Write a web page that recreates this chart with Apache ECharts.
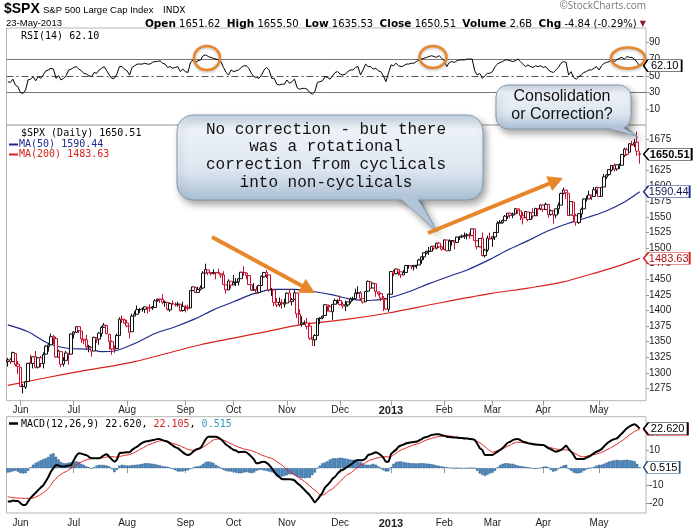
<!DOCTYPE html>
<html><head><meta charset="utf-8">
<script src="https://cdn.jsdelivr.net/npm/echarts@6.0.0/dist/echarts.min.js"></script>
<style>html,body{margin:0;padding:0;background:#fff;}#chart{width:699px;height:529px;}</style>
</head><body><div id="chart"></div>
<script>
// ---------- categories (NYSE trading days 2012-05-24 .. 2013-05-23) ----------
const holidays = ['2012-05-28','2012-07-04','2012-09-03','2012-10-29','2012-10-30','2012-11-22','2012-12-25','2013-01-01','2013-01-21','2013-02-18','2013-03-29'];
const monthNames = ['Jan','Feb','Mar','Apr','May','Jun','Jul','Aug','Sep','Oct','Nov','Dec'];

// ---------- price data (by month) ----------
const open = [
 1318,1321,1318,1331,1314,
 1309,1278,1277,1286,1317,1315,1326,1309,1324,1315,1330,1342,1345,1358,1355,1325,1334,1314,1320,1331,1330,
 1362,1365,1374,1367,1354,1353,1342,1341,1335,1356,1354,1363,1373,1376,1362,1350,1338,1339,1360,1386,1385,
 1380,1375,1366,1391,1394,1401,1402,1402,1405,1405,1404,1405,1416,1418,1418,1413,1413,1401,1411,1410,1409,1410,1400,
 1406,1405,1404,1432,1437,1429,1434,1436,1460,1465,1461,1459,1461,1461,1459,1457,1441,1433,1447,
 1441,1445,1446,1451,1461,1460,1456,1441,1433,1433,1429,1440,1454,1461,1457,1433,1433,1413,1409,1412,1410,
 1412,1428,1414,1418,1428,1394,1378,1380,1380,1375,1356,1353,1360,1387,1388,1392,1409,1406,1398,1410,1416,
 1416,1410,1407,1409,1414,1418,1419,1428,1428,1419,1414,1431,1446,1436,1443,1430,1427,1420,1418,1402,
 1426,1462,1459,1466,1462,1457,1461,1472,1472,1470,1472,1473,1481,1486,1492,1495,1495,1503,1500,1508,1502,
 1498,1513,1496,1511,1512,1509,1518,1518,1519,1520,1521,1520,1531,1512,1502,1516,1488,1497,1516,
 1515,1518,1525,1540,1541,1544,1551,1556,1553,1555,1563,1560,1552,1549,1558,1546,1557,1552,1563,1563,
 1569,1562,1570,1554,1560,1553,1563,1569,1588,1593,1588,1553,1574,1552,1541,1555,1563,1579,1579,1585,1583,1593,
 1597,1583,1598,1614,1618,1625,1633,1627,1632,1633,1649,1658,1654,1665,1667,1670,1651.62
];
const high = [
 1324,1324,1334,1331,1319,
 1309,1282,1287,1316,1329,1326,1335,1325,1327,1333,1344,1348,1363,1361,1358,1337,1334,1325,1335,1331,1363,
 1367,1374,1374,1367,1354,1361,1345,1341,1358,1357,1365,1375,1380,1376,1362,1352,1344,1363,1389,1392,1387,
 1385,1375,1395,1399,1408,1404,1405,1406,1405,1410,1407,1418,1419,1418,1426,1416,1413,1413,1416,1413,1414,1410,1414,
 1409,1409,1433,1438,1438,1438,1440,1463,1475,1465,1461,1466,1461,1467,1460,1463,1441,1450,1447,
 1457,1452,1452,1462,1471,1461,1456,1442,1444,1439,1441,1456,1462,1465,1457,1436,1433,1420,1421,1418,1419,
 1429,1434,1420,1433,1428,1402,1391,1384,1388,1381,1357,1362,1387,1389,1392,1410,1409,1409,1410,1419,1418,
 1424,1414,1416,1414,1421,1422,1435,1439,1431,1419,1431,1448,1447,1444,1443,1430,1429,1423,1418,1427,
 1463,1465,1467,1466,1462,1465,1473,1473,1472,1473,1473,1483,1487,1493,1496,1502,1503,1504,1509,1510,1504,
 1514,1513,1514,1513,1513,1518,1518,1522,1525,1524,1525,1531,1531,1512,1516,1525,1499,1520,1525,
 1519,1525,1543,1545,1546,1553,1556,1557,1557,1564,1563,1560,1558,1559,1558,1557,1564,1564,1563,1570,
 1570,1573,1571,1562,1560,1563,1573,1589,1597,1593,1588,1575,1574,1555,1556,1565,1580,1584,1592,1586,1598,1598,
 1598,1598,1619,1619,1627,1633,1636,1634,1636,1651,1661,1661,1668,1672,1675,1687,1655.5
];
const low = [
 1310,1314,1318,1310,1298,
 1277,1267,1274,1286,1314,1307,1307,1307,1309,1307,1329,1334,1345,1346,1324,1325,1309,1310,1320,1313,1330,
 1355,1364,1364,1348,1346,1337,1333,1326,1335,1348,1345,1358,1372,1362,1337,1329,1332,1339,1360,1380,1379,
 1373,1355,1366,1391,1394,1396,1398,1396,1395,1398,1401,1405,1414,1412,1410,1406,1400,1398,1409,1406,1406,1398,1398,
 1397,1400,1404,1431,1428,1429,1432,1435,1460,1457,1456,1458,1450,1459,1452,1441,1427,1433,1435,
 1441,1439,1440,1451,1456,1450,1441,1431,1432,1426,1427,1440,1453,1452,1430,1423,1407,1405,1406,1403,1405,
 1412,1414,1408,1417,1388,1377,1374,1378,1370,1353,1343,1343,1360,1378,1386,1392,1398,1397,1385,1410,1411,
 1408,1403,1399,1406,1411,1415,1419,1426,1416,1411,1414,1430,1435,1436,1422,1424,1415,1399,1401,1398,
 1426,1455,1458,1456,1452,1457,1461,1467,1466,1464,1467,1473,1475,1481,1490,1489,1494,1497,1498,1500,1496,
 1498,1495,1496,1504,1498,1509,1513,1516,1515,1514,1515,1520,1512,1498,1502,1487,1485,1494,1514,
 1502,1513,1525,1540,1539,1544,1547,1548,1548,1555,1555,1545,1538,1549,1543,1546,1547,1552,1551,1561,
 1558,1562,1549,1552,1539,1548,1555,1569,1586,1579,1552,1553,1543,1536,1539,1549,1563,1575,1579,1577,1583,1587,
 1582,1583,1598,1611,1616,1623,1623,1624,1627,1633,1646,1648,1654,1665,1662,1648,1635.53
];
const close = [
 1320.7,1317.8,1332.4,1313.3,1310.3,
 1278.0,1278.2,1285.5,1315.1,1315.0,1325.7,1308.9,1324.2,1314.9,1329.1,1342.8,1344.8,1358.0,1355.7,1325.5,1335.0,1313.7,1320.0,1331.9,1329.0,1362.2,
 1365.5,1374.0,1367.6,1354.7,1352.5,1341.5,1341.5,1334.8,1356.8,1353.6,1363.7,1372.8,1376.5,1362.7,1350.5,1338.3,1337.9,1360.0,1386.0,1385.3,1379.3,
 1375.3,1365.0,1391.0,1394.2,1401.4,1402.2,1402.8,1405.9,1404.1,1403.9,1405.5,1415.5,1418.2,1418.1,1413.2,1413.5,1402.1,1411.1,1410.4,1409.3,1410.5,1399.5,1406.6,
 1404.9,1403.4,1432.1,1437.9,1429.1,1433.6,1436.6,1460.0,1465.8,1461.2,1459.3,1461.1,1460.3,1460.2,1456.9,1441.6,1433.3,1447.2,1440.7,
 1444.5,1445.8,1451.0,1461.4,1460.9,1455.9,1441.5,1432.6,1432.8,1428.6,1440.1,1454.9,1460.9,1457.3,1433.2,1433.8,1413.1,1408.8,1413.0,1411.9,1412.2,
 1427.6,1414.2,1417.3,1428.4,1394.5,1377.5,1380.0,1380.0,1374.5,1355.5,1353.3,1359.9,1386.9,1387.8,1391.0,1409.2,1406.3,1398.9,1409.9,1416.0,1416.2,
 1409.5,1407.1,1409.3,1413.9,1418.1,1418.6,1427.8,1428.5,1419.5,1413.6,1430.4,1446.8,1435.8,1443.7,1430.2,1426.7,1419.8,1418.1,1402.4,1426.2,
 1462.4,1459.4,1466.5,1461.9,1457.2,1461.0,1472.1,1472.1,1470.7,1472.3,1472.6,1480.9,1486.0,1492.6,1494.8,1494.8,1503.0,1500.2,1507.8,1502.0,1498.1,
 1513.2,1495.7,1511.3,1512.1,1509.4,1517.9,1518.0,1519.4,1520.3,1521.4,1519.8,1530.9,1512.0,1502.4,1515.6,1487.9,1496.9,1516.0,1514.7,
 1518.2,1525.2,1539.8,1541.5,1544.3,1551.2,1556.2,1552.5,1554.5,1563.2,1560.7,1552.1,1548.3,1558.7,1545.8,1556.9,1551.7,1563.8,1562.9,1569.2,
 1562.2,1570.3,1553.7,1560.0,1553.3,1563.1,1568.6,1587.7,1593.4,1588.9,1552.4,1574.6,1552.0,1541.6,1555.3,1562.5,1578.8,1578.8,1585.2,1582.2,1593.6,1597.6,
 1582.7,1597.6,1614.4,1617.5,1626.0,1632.7,1626.7,1633.7,1633.8,1650.3,1658.8,1650.5,1667.5,1666.3,1669.2,1655.4,1650.51
];
// moving averages: [trading-day index, value]
const ma50 = [[0,1377],[8,1366],[16,1347],[24,1339],[32,1338],[37,1334],[42,1335],[50,1347],[58,1363],[66,1374],[74,1387],[81,1401],[89,1414],[97,1427],[105,1434],[113,1434],[121,1430],[128,1425],[134,1419],[142,1416],[150,1420],[158,1430],[166,1443],[174,1455],[181,1465],[190,1482],[197,1497],[205,1512],[213,1528],[221,1540],[229,1550],[236,1560],[243,1574],[249,1590.44]];
const ma200 = [[0,1280],[24,1299],[50,1318],[76,1345],[102,1366],[115,1377],[134,1386],[150,1396],[170,1412],[190,1427],[205,1436],[218,1445],[233,1462],[241,1472],[249,1483.63]];

// ---------- indicators ----------
const rsi = [
 43,42,46,39,37,30,29,33,45,46, 49,44,49,47,51,56,57,59,58,47, 50,45,47,50,57,58,60,61,58,56,
 53,52,50,49,54,53,57,59,61,56, 51,47,47,52,61,61,58,56,51,60, 62,64,64,64,65,64,64,66,67,67,
 68,65,64,60,61,59,60,61,55,58, 55,54,66,69,66,68,69,74,75,73, 72,71,70,69,67,60,54,51,57,55,
 56,57,60,62,62,59,53,49,48,47, 51,57,60,57,47,47,40,39,40,40, 45,41,43,46,36,34,35,35,34,30,
 28,31,42,43,44,49,48,46,50,54, 55,52,51,52,55,57,57,60,61,51, 57,64,61,61,58,59,56,55,50,43,
 53,63,62,65,62,61,62,64,64,65, 65,67,69,70,71,72,73,74,73,72, 74,71,68,61,66,67,66,68,69,69,
 69,70,70,70,56,51,53,47,50,53, 53,55,61,64,66,67,69,69,68,67, 68,70,67,64,61,63,61,60,62,61,
 62,60,61,57,55,54,57,60,65,67, 66,51,55,48,46,49,51,54,55,57, 57,59,61,57,62,65,66,67,69,67,
 69,71,72,70,73,72,72,70,66,62.10
];
const macd = [
 -19,-19,-18.5,-18.7,-18.7,-20,-21,-21,-19,-17, -15.5,-14,-12.5,-11,-9.8,-7.5,-5,-2,0,1.8,
 1.5,0.9,0.9,1.2,1.5,1.8,4.5,7,8.5,8.3, 7.8,7.5,6.5,5.6,5.6,5.6,5.6,6.5,7.5,7.9,
 6.5,5,3.7,5,8.5,8.8,9,9.1,9.1,10.5, 11.5,12.3,13.5,14.5,15.1,15.4,15.7,16,16.3,16.7,
 16.6,16,15.5,15.1,14,13,12,11.4,10.2,9, 8,7.5,8,9.4,10.5,11,11.7,14,16.5,18,
 18,18,18,17.5,16.5,15.1,13.5,12.5,11.4,10.5, 10,9.1,9.3,9.4,9,8,6.6,5,2.8,3,
 3.5,3.7,3,1.8,0,-2,-3.9,-5,-6.2,-6.3, -6.3,-6.3,-6.5,-7,-8.5,-9.6,-11,-12.5,-14,-15.5,
 -17.5,-19.5,-18,-16,-14,-11,-9.6,-8,-6,-4.8, -3,-1.5,-1,0,1,1.8,3,4.2,4.7,4.5,
 4.7,5.5,7.5,7.9,8.5,9.1,8.5,7.5,6,3.7, 3.7,8,9.4,10.5,12.3,13,13.5,14.2,14.5,14.8,
 15,15.1,15.8,16.5,17.4,17.8,18.3,19,19.2,19.4, 19.4,18.8,18.5,18,17.8,17.6,17.5,17.4,17.3,17.2,
 17,17,16.7,16.5,16.1,14,11.5,10.4,7.5,7.5, 7.5,7.5,8.5,9.5,10.4,11.5,13,14.5,15.1,16,
 16.5,16.7,16,15.1,14.8,14.3,14,13.7,13.5,13.4, 13.3,13.3,12.5,11.4,10.8,10,9.4,9.8,10.4,11.5,
 12.9,11,9.4,7.5,5.3,5.3,5.3,5.3,6,6.6, 7.5,8.5,9.4,10,11,12.5,14,15.1,16,16.6,
 17,18.4,19.9,21.4,22.8,23.8,24.6,25.1,24.1,22.620
];
const signal = [
 -16.3,-16.6,-16.8,-17,-17.1,-17.1,-17.2,-17.3,-17.3,-17.2, -17.1,-16.5,-15.8,-15,-14,-13,-11.5,-9.5,-7.5,-5.8,
 -4.5,-3.5,-2.6,-1.9,-1,0,1,2,2.8,3.5, 4.2,4.8,5.2,5.5,5.6,5.6,5.6,5.8,6.1,6.4,
 6.6,6.6,6.4,6.3,6.6,7,7.3,7.5,7.8,8.3, 9,9.8,10.6,11.4,12.2,13,13.6,14.2,14.7,15.2,
 15.6,15.7,15.6,15.3,14.8,14.2,13.7,13.3,12.7,12, 11.4,10.8,10.4,10.2,10.4,10.8,11.4,12,13,14,
 15,16.1,16.6,16.6,16.4,16,15.4,14.6,13.9,13.3, 12.6,12,11.5,11,10.7,10.4,10,9.5,8.9,8.2,
 7.5,7,6.5,6,5.6,4.8,3.8,2.8,1.8,0.5, -0.8,-2,-2.9,-3.8,-4.8,-5.8,-6.7,-7.7,-8.8,-10,
 -11.5,-12.5,-13.8,-15,-15.3,-14.8,-13.6,-12.5,-11.8,-10.5, -9,-7.5,-6,-4.6,-3.5,-2.9,-1.8,-0.5,0.5,1.8,
 2.5,3.2,4,4.7,5.2,5.6,6,6.3,6.6,6.5, 6.4,6.6,7.5,8.5,9.6,10.4,11,11.6,12.2,12.8,
 13.3,13.7,14.2,14.8,15.5,16.1,16.6,17,17.4,17.8, 18.1,18.3,18.5,18.5,18.4,18.2,18,17.8,17.6,17.4,
 17.2,17,16.8,16.5,16.1,15.3,14.5,13.5,12.3,11, 10,9.1,9.5,10,10.5,11,11.8,12.5,13.2,14,
 14.6,14.8,14.8,14.6,14.4,14.2,14,13.9,13.7,13.5, 13.3,13,12.5,12,11.7,11.3,11,10.7,10.5,10.5,
 10.4,10.2,9.6,8.8,8,7.2,6.6,6.5,6.8,7.2, 7.5,7.8,8.1,8.5,9,9.7,10.5,11.2,12,12.8,
 13.7,14.6,15.6,16.7,17.8,19,20,21,21.7,22.105
];
const hist = [
 -2.5,-2.3,-1.8,-1.5,-2,-2.8,-3,-2.9,-1.5,0.5, 2,3,3.8,4.5,5.2,5.6,6.5,8,8.5,6.5,
 5,3.5,2.8,2.8,3.2,3.5,3.8,4,3.5,2.5, 1.9,1,0.5,-0.4,0.5,1.5,1.9,1.9,1.8,1.5,
 1,-0.5,-2.3,-1,1.5,1.9,1.7,1.5,1.5,1.8, 1.9,2,2.2,2.5,2.8,2.8,2.7,2.5,2.3,2,
 1.6,1.2,1,0.8,0.2,-0.5,-1.2,-1.9,-1.9,-1.8, -1.5,-1.2,-0.5,0.3,1,1,1.5,2.5,3.5,3.8,
 3.6,3,1.9,1,0,-1,-1.6,-1.9,-1.9,-2.2, -2.6,-2.9,-2.9,-2.5,-2.2,-2.5,-2.9,-2.5,-1.5,-1,
 -1,-1.3,-1.6,-1.9,-2.3,-3,-4.2,-4.8,-4.8,-4.5, -4,-3.5,-3.5,-4,-4.8,-5.5,-5.7,-5.7,-5.5,-5.5,
 -4,-2.5,0,1.5,2.8,3.3,4,5,5.6,5.6, 5.7,6,5.8,5.5,5.2,4.9,4.8,4.7,4.5,3.5,
 2.5,2,1.9,2,2.5,2,1,0,-1.2,-1.9, -1.8,0.5,2.5,3.5,3.8,3.8,3.5,3.2,3,2.8,
 2.8,2.7,2.8,2.9,2.8,2.6,2.5,2.3,2,1.6, 1.3,1,0.8,0.5,0.3,0.1,0,0,0,-0.2,
 -0.2,-0.1,0,0,0,-1.5,-3,-3.8,-4.5,-3.8, -3,-2.5,-1.5,0.5,1.8,2.5,2.8,2.8,2.6,2.5,
 2,1.5,1.2,1,0.8,0.5,0,-0.3,-0.5,-0.2, 0.3,0.8,1,0.5,-1,-2,-1.5,-0.5,0.8,1.6,
 1.9,-0.5,-1.5,-2.5,-3,-2.9,-2.5,-1.5,-0.8,0, 0.3,0.8,1.5,1.9,2,2.5,3.2,3.8,4.2,4.5,
 4.7,4.6,4.5,4.7,4.8,4.6,4.3,4,2.5,0.515
];
const priceTicks = [1275,1300,1325,1350,1375,1400,1425,1450,1475,1500,1525,1550,1575,1600,1625,1650,1675];
const rsiTicks = [10,30,50,70,90];
const macdTicks = [-20,-10,10,20];

// ---------- build ----------
const dates = [];
(function(){
  let t = Date.UTC(2012,4,24); const end = Date.UTC(2013,4,23);
  for (; t <= end; t += 864e5) {
    const d = new Date(t), w = d.getUTCDay(), s = d.toISOString().slice(0,10);
    if (w > 0 && w < 6 && holidays.indexOf(s) < 0) dates.push(s);
  }
})();
const N = dates.length, LAST = N - 1;
const cats = dates.concat(['pad1','pad2']);
const monthStart = new Set();
for (let i = 1; i < N; i++) if (dates[i].slice(0,7) !== dates[i-1].slice(0,7)) monthStart.add(i);
const isMS = (i) => monthStart.has(i);
const fmtX = (v, i) => {
  if (!monthStart.has(i)) return '';
  const m = +v.slice(5,7);
  return m === 1 ? '{b|' + v.slice(0,4) + '}' : monthNames[m-1];
};
const RED = '#c8102e', NAVY = '#1f2a8c', MARED = '#d9201c', ORANGE = '#e8862a';
const candleData = dates.map((d,i) => {
  const col = (i === 0 || close[i] >= close[i-1]) ? '#111' : RED;
  return {value:[open[i], close[i], low[i], high[i]],
    itemStyle:{color:'#fff', color0:col, borderColor:col, borderColor0:col, borderWidth:1}};
});

const GL = 6.5, GW = 639.5;
function xAxis(gi, show){
  return {type:'category', gridIndex:gi, data:cats, boundaryGap:true,
    axisLine:{show:false}, splitLine:{show:false},
    axisTick:{show:show, alignWithLabel:true, interval:isMS, length:5, lineStyle:{color:'#999'}},
    axisLabel:{show:show, interval:isMS, formatter:fmtX, margin:5, fontSize:10, color:'#222',
      fontFamily:'Liberation Sans', rich:{b:{fontWeight:'bold', fontSize:11, fontFamily:'Liberation Sans', color:'#222'}}}};
}
function yAxis(gi, min, max, ticks){
  return {type:'value', gridIndex:gi, position:'right', min:min, max:max, scale:true,
    axisLine:{show:false}, splitLine:{show:false},
    axisTick:{show:true, customValues:ticks, length:3, lineStyle:{color:'#999'}},
    axisLabel:{customValues:ticks, margin:3, fontSize:10, color:'#222', fontFamily:'Liberation Sans',
      formatter:(v) => String(Math.round(v))}};
}
function tag(xi, yi, val, txt, border, color, bold, w, z){
  return {type:'scatter', xAxisIndex:xi, yAxisIndex:yi, z:z, silent:true, clip:false, animation:false,
    data:[[dates[LAST], val]],
    symbol:'path://M0,6L6,0L56,0L56,12L6,12Z', symbolSize:[w,12], symbolOffset:[4 + w/2, 0],
    itemStyle:{color:'#fff', borderColor:border, borderWidth:1, opacity:1},
    label:{show:true, position:'inside', offset:[2,0.5], formatter:txt, color:color, fontSize:11,
      fontWeight:bold ? 'bold' : 'normal', fontFamily:'Liberation Sans'}};
}
function arrow(x1,y1,x2,y2){
  const dx = x2-x1, dy = y2-y1, L = Math.hypot(dx,dy), ux = dx/L, uy = dy/L, hl = 15, hw = 8;
  const bx = x2-ux*hl, by = y2-uy*hl;
  return [
    {type:'line', z:110, shape:{x1:x1,y1:y1,x2:bx+ux*2,y2:by+uy*2}, style:{stroke:ORANGE, lineWidth:4}},
    {type:'polygon', z:110, shape:{points:[[x2,y2],[bx-uy*hw,by+ux*hw],[bx+uy*hw,by-ux*hw]]}, style:{fill:ORANGE}}
  ];
}
function grad(){
  return new echarts.graphic.LinearGradient(0,0,0,1,[
    {offset:0,color:'#c6d5e4'},{offset:0.18,color:'#edf2f8'},{offset:0.65,color:'#dde6f0'},{offset:1,color:'#a9bed3'}]);
}
const shadow = {shadowBlur:7, shadowOffsetX:3, shadowOffsetY:4, shadowColor:'rgba(0,0,0,0.35)'};
const mono = '"DejaVu Sans Mono"';
const ring = {fill:'none', stroke:ORANGE, lineWidth:2.5, shadowBlur:3, shadowColor:'rgba(0,0,0,0.3)', shadowOffsetY:1};

const graphics = [
  // header
  {type:'text', z:50, style:{x:4, y:2, text:'$SPX', font:'bold 14px "Liberation Sans"', fill:'#000'}},
  {type:'text', z:50, style:{x:43, y:5, text:'S&P 500 Large Cap Index', font:'9.5px "Liberation Sans"', fill:'#000'}},
  {type:'text', z:50, style:{x:163, y:6, text:'INDX', font:'9px "DejaVu Sans"', fill:'#000'}},
  {type:'text', z:50, style:{x:6, y:18.5, text:'23-May-2013', font:'9.5px "Liberation Sans"', fill:'#000'}},
  {type:'text', z:50, style:{x:646, y:18.5, align:'right', text:
    '{b|Open} 1651.62  {b|High} 1655.50  {b|Low} 1635.53  {b|Close} 1650.51  {b|Volume} 2.6B  {b|Chg} -4.84 (-0.29%) {r|▼}',
    font:'10px "DejaVu Sans"', fill:'#000',
    rich:{b:{font:'bold 10.5px "DejaVu Sans"', fill:'#000'}, r:{font:'8px "DejaVu Sans"', fill:'#8b1a2b'}}}},
  {type:'text', z:50, style:{x:646, y:1, align:'right', text:'\u00A9StockCharts.com', font:'10px "Open Sans"', fill:'#777'}},
  // legends
  {type:'text', z:50, style:{x:21, y:31.5, text:'RSI(14) ' + rsi[LAST].toFixed(2), font:'10px ' + mono, fill:'#000'}},
  {type:'text', z:50, style:{x:21, y:128, text:'$SPX (Daily) ' + close[LAST].toFixed(2), font:'10px ' + mono, fill:'#000'}},
  {type:'line', z:50, shape:{x1:9,y1:144.5,x2:18,y2:144.5}, style:{stroke:NAVY, lineWidth:2}},
  {type:'text', z:50, style:{x:19, y:139.5, text:'MA(50) ' + ma50[ma50.length-1][1].toFixed(2), font:'10px ' + mono, fill:NAVY}},
  {type:'line', z:50, shape:{x1:9,y1:154.5,x2:18,y2:154.5}, style:{stroke:MARED, lineWidth:2}},
  {type:'text', z:50, style:{x:19, y:149.5, text:'MA(200) ' + ma200[ma200.length-1][1].toFixed(2), font:'10px ' + mono, fill:MARED}},
  {type:'line', z:50, shape:{x1:9,y1:423.5,x2:18,y2:423.5}, style:{stroke:'#000', lineWidth:2.5}},
  {type:'text', z:50, style:{x:21, y:419, font:'10px ' + mono, fill:'#000',
    text:'MACD(12,26,9) ' + macd[LAST].toFixed(3) + ', {r|' + signal[LAST].toFixed(3) + '}, {c|' + hist[LAST].toFixed(3) + '}',
    rich:{r:{font:'10px ' + mono, fill:'#cc2222'}, c:{font:'10px ' + mono, fill:'#3399bb'}}}},
  // RSI circles
  {type:'ellipse', z:110, shape:{cx:207,cy:58,rx:13,ry:12}, style:ring},
  {type:'ellipse', z:110, shape:{cx:433,cy:57,rx:13.5,ry:11}, style:ring},
  {type:'ellipse', z:110, shape:{cx:628,cy:58,rx:17,ry:10.5}, style:ring},
  // big callout
  {type:'polygon', z:100, shape:{points:[[396,194],[417,194],[437,232]]}, style:Object.assign({fill:'#b3c5d8', stroke:'#8398ad', lineWidth:1}, shadow)},
  {type:'rect', z:101, shape:{x:177,y:115,width:306,height:85,r:16}, style:Object.assign({fill:grad(), stroke:'#8398ad', lineWidth:1}, shadow)},
  {type:'polygon', z:102, shape:{points:[[397.6,196],[415.6,196],[435.4,229.6]]}, style:{fill:'#b3c5d8'}},
  {type:'text', z:103, style:{x:326, y:120.5, align:'center', text:'No correction - but there\nwas a rotational\ncorrection from cyclicals\ninto non-cyclicals',
    font:'16px "Liberation Mono"', lineHeight:17.7, fill:'#111'}},
  // small callout
  {type:'polygon', z:100, shape:{points:[[606,126],[624,126],[638,137]]}, style:Object.assign({fill:'#b3c5d8', stroke:'#8398ad', lineWidth:1}, shadow)},
  {type:'rect', z:101, shape:{x:496,y:85,width:135,height:44,r:12}, style:Object.assign({fill:grad(), stroke:'#8398ad', lineWidth:1}, shadow)},
  {type:'polygon', z:102, shape:{points:[[607.5,127.5],[622.5,127.5],[635.5,135.7]]}, style:{fill:'#b3c5d8'}},
  {type:'text', z:103, style:{x:562, y:88, align:'center', text:'Consolidation\nor Correction?', font:'16px "Liberation Sans"', lineHeight:18, fill:'#111'}}
].concat(arrow(212,237,315,293), arrow(428,233,563,178));

const option = {
  animation:false,
  backgroundColor:'#fff',
  grid:[
    {left:GL, width:GW, top:28, height:97, show:true, borderColor:'#b5b5b5', borderWidth:1, containLabel:false},
    {left:GL, width:GW, top:125, height:275.7, show:true, borderColor:'#b5b5b5', borderWidth:1, containLabel:false},
    {left:GL, width:GW, top:416.7, height:96.3, show:true, borderColor:'#b5b5b5', borderWidth:1, containLabel:false}
  ],
  xAxis:[xAxis(0,false), xAxis(1,true), xAxis(2,true)],
  yAxis:[yAxis(0,-8.75,107.1,rsiTicks), yAxis(1,1255.3,1697.5,priceTicks), yAxis(2,-25.6,29.4,macdTicks)],
  series:[
    {type:'line', name:'RSI', xAxisIndex:0, yAxisIndex:0, data:rsi, symbol:'none', lineStyle:{color:'#000', width:1}, z:5,
      markLine:{silent:true, symbol:['none','none'], label:{show:false}, animation:false,
        data:[{yAxis:70, lineStyle:{color:'#777', width:1, type:'solid'}},
              {yAxis:30, lineStyle:{color:'#777', width:1, type:'solid'}},
              {yAxis:50, lineStyle:{color:'#555', width:1, type:[7,3,2,3]}}]}},
    {type:'candlestick', name:'$SPX', xAxisIndex:1, yAxisIndex:1, data:candleData, barWidth:3, z:4},
    {type:'line', name:'MA50', xAxisIndex:1, yAxisIndex:1, data:ma50.map(p => [dates[p[0]], p[1]]), symbol:'none', smooth:0.3,
      lineStyle:{color:NAVY, width:1.2}, z:3},
    {type:'line', name:'MA200', xAxisIndex:1, yAxisIndex:1, data:ma200.map(p => [dates[p[0]], p[1]]), symbol:'none', smooth:0.3,
      lineStyle:{color:MARED, width:1.2}, z:3},
    {type:'bar', name:'Hist', xAxisIndex:2, yAxisIndex:2, data:hist, barCategoryGap:'8%',
      itemStyle:{color:'#4f8fca', borderColor:'#1d4f80', borderWidth:0.5}, z:2},
    {type:'line', name:'MACD', xAxisIndex:2, yAxisIndex:2, data:macd, symbol:'none', smooth:0.2, lineStyle:{color:'#000', width:2}, z:4},
    {type:'line', name:'Signal', xAxisIndex:2, yAxisIndex:2, data:signal, symbol:'none', smooth:0.2, lineStyle:{color:'#e02020', width:1}, z:3},
    tag(0,0, rsi[LAST], rsi[LAST].toFixed(2), '#000', '#000', false, 38, 20),
    tag(1,1, close[LAST], close[LAST].toFixed(2), '#000', '#000', true, 48, 22),
    tag(1,1, ma50[ma50.length-1][1], ma50[ma50.length-1][1].toFixed(2), NAVY, '#1a1a55', false, 46, 20),
    tag(1,1, ma200[ma200.length-1][1], ma200[ma200.length-1][1].toFixed(2), MARED, '#b01010', false, 46, 20),
    tag(2,2, signal[LAST], signal[LAST].toFixed(3), '#e02020', '#e02020', false, 44, 19),
    tag(2,2, macd[LAST], macd[LAST].toFixed(3), '#000', '#000', false, 44, 21),
    tag(2,2, hist[LAST], hist[LAST].toFixed(3), '#1d4f80', '#000', false, 36, 20)
  ],
  graphic: graphics
};
const chart = echarts.init(document.getElementById('chart'), null, {renderer:'canvas'});
chart.setOption(option);
</script>
</body></html>
